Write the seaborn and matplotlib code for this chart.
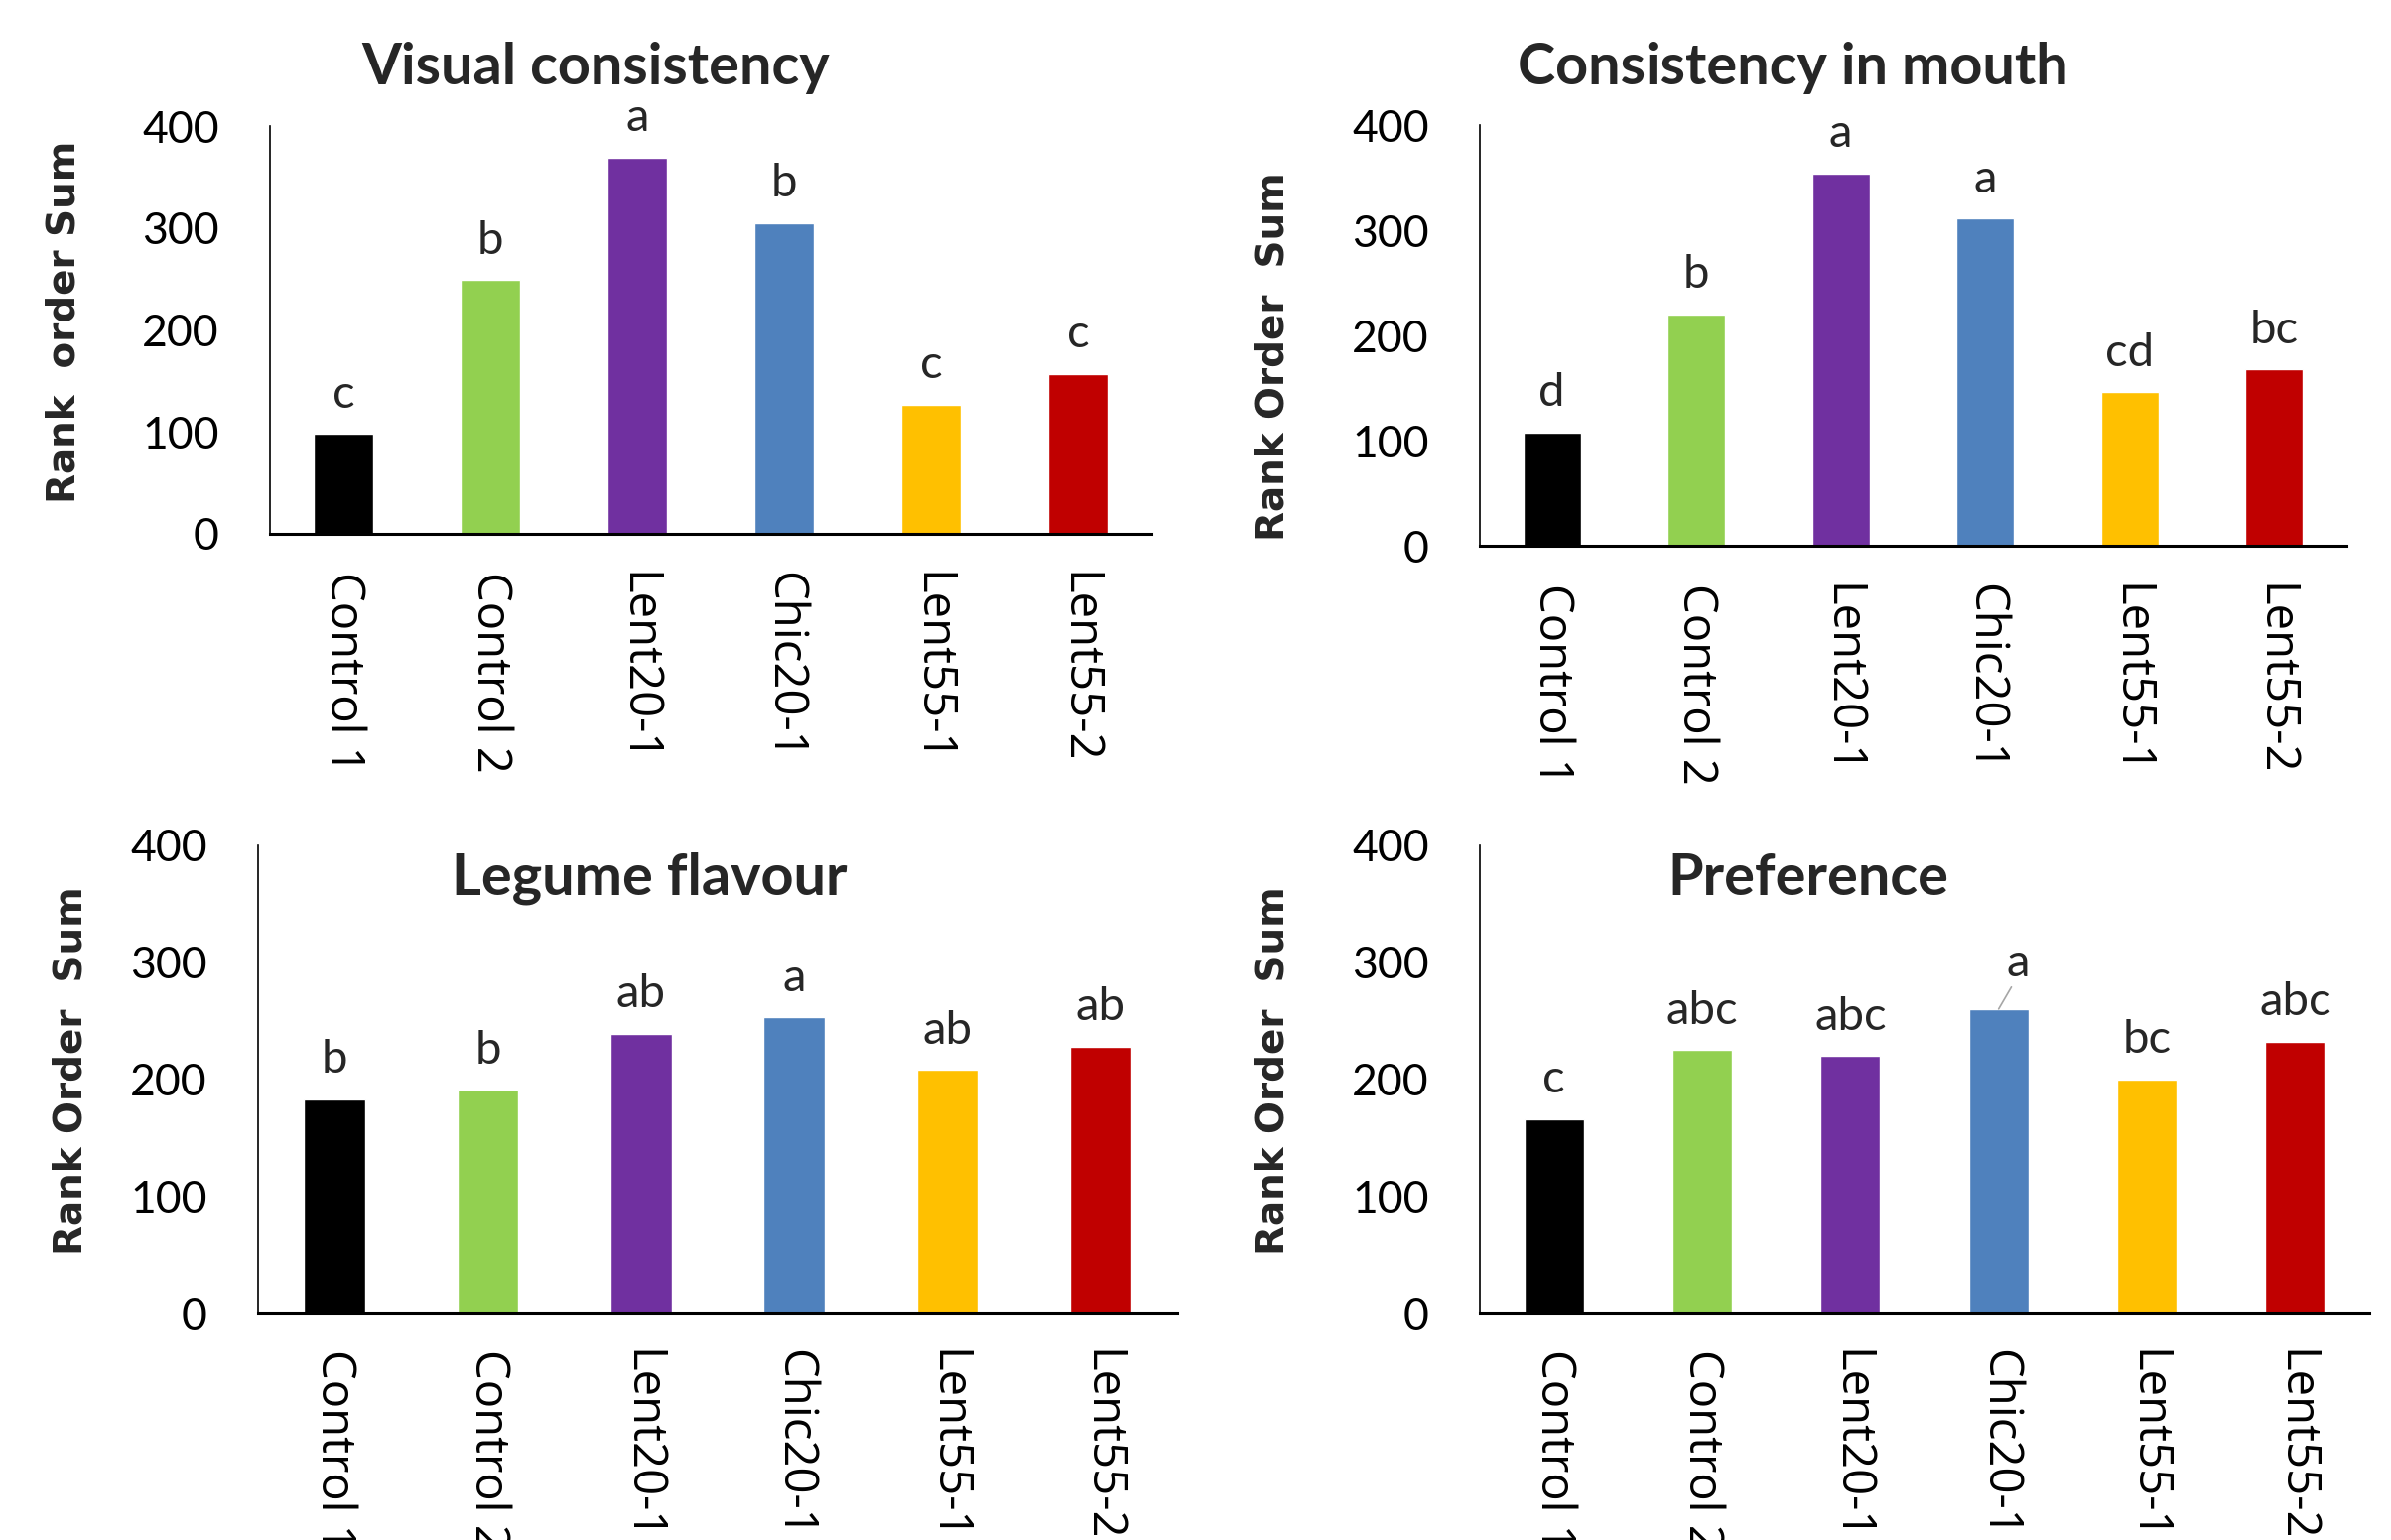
import matplotlib
matplotlib.use("Agg")
import matplotlib.pyplot as plt
import seaborn as sns
import pandas as pd

# Samples and their bar colours
samples = ["Control 1", "Control 2", "Lent20-1", "Chic20-1", "Lent55-1", "Lent55-2"]
bar_colors = ["#000000", "#92D050", "#7030A0", "#4F81BD", "#FFC000", "#C00000"]

# Rank order sums and significance letters per attribute
visual_consistency = [98, 249, 369, 305, 127, 157]
visual_letters = ["c", "b", "a", "b", "c", "c"]

mouth_consistency = [108, 220, 354, 311, 146, 168]
mouth_letters = ["d", "b", "a", "a", "cd", "bc"]

legume_flavour = [183, 191, 239, 253, 208, 228]
legume_letters = ["b", "b", "ab", "a", "ab", "ab"]

preference = [166, 225, 220, 260, 200, 232]
preference_letters = ["c", "abc", "abc", "a", "bc", "abc"]

y_ticks = [0, 100, 200, 300, 400]

W, H = 2409, 1552
DPI = 100

sns.set_style("white")
plt.rcParams["font.family"] = ["Lato", "DejaVu Sans"]

fig = plt.figure(figsize=(W / DPI, H / DPI), dpi=DPI)

# (title, ylabel, values, letters, axes box [left, top, right, bottom] px,
#  title anchor px, ylabel centre px)
panels = [
    ("Visual consistency", "Rank  order Sum", visual_consistency, visual_letters,
     (272, 127, 1160, 538), (600, 85), (65, 324)),
    ("Consistency in mouth", "Rank Order  Sum", mouth_consistency, mouth_letters,
     (1491, 126, 2364, 550), (1806, 85), (1283, 359)),
    ("Legume flavour", "Rank Order  Sum", legume_flavour, legume_letters,
     (260, 852, 1186, 1323), (654, 901), (72, 1079)),
    ("Preference", "Rank Order  Sum", preference, preference_letters,
     (1491, 852, 2387, 1323), (1822, 902), (1283, 1079)),
]


def px_box(l, t, r, b):
    return [l / W, 1 - b / H, (r - l) / W, (b - t) / H]


for title, ylabel, values, letters, box, tpos, ypos in panels:
    ax = fig.add_axes(px_box(*box))
    df = pd.DataFrame({"sample": samples, "value": values})
    sns.barplot(data=df, x="sample", y="value", hue="sample", palette=bar_colors,
                order=samples, hue_order=samples, width=0.4, legend=False,
                saturation=1, ax=ax)
    ax.set_xlim(-0.5, len(samples) - 0.5)
    ax.set_ylim(0, 400)
    ax.set_yticks(y_ticks)
    ax.set_xlabel("")
    ax.set_ylabel("")
    for side in ("top", "right"):
        ax.spines[side].set_visible(False)
    ax.spines["left"].set_linewidth(1.2)
    ax.spines["bottom"].set_linewidth(2.2)
    ax.spines["left"].set_color("black")
    ax.spines["bottom"].set_color("black")
    ax.tick_params(axis="y", length=0, pad=37, labelsize=32, labelcolor="black")
    ax.tick_params(axis="x", length=0, pad=27)
    ax.set_xticks(range(len(samples)))
    ax.set_xticklabels(samples, rotation=-90, ha="center", va="top",
                       fontsize=34, family=["Open Sans", "DejaVu Sans"],
                       color="black")

    for i, (v, lab) in enumerate(zip(values, letters)):
        if title == "Preference" and lab == "a":
            ax.annotate(lab, xy=(i, v), xytext=(14, 24), textcoords="offset points",
                        ha="center", va="baseline", fontsize=34,
                        arrowprops=dict(arrowstyle="-", color="#A6A6A6", lw=1.2,
                                        shrinkA=0, shrinkB=0,
                                        relpos=(0.3, 0.0)))
        else:
            ax.annotate(lab, xy=(i, v), xytext=(0, 19), textcoords="offset points",
                        ha="center", va="baseline", fontsize=34)

    fig.text(tpos[0] / W, 1 - tpos[1] / H, title, ha="center", va="baseline",
             fontsize=41.5, fontweight="bold")
    fig.text(ypos[0] / W, 1 - ypos[1] / H, ylabel, ha="center", va="center",
             rotation=90, fontsize=28, fontweight="bold",
             family=["DejaVu Sans"])

fig.savefig("out.png", dpi=DPI, facecolor="white")
